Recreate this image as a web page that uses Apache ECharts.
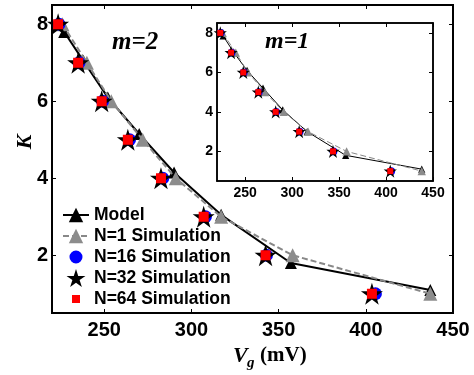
<!DOCTYPE html>
<html><head><meta charset="utf-8">
<script src="https://cdn.jsdelivr.net/npm/echarts@6/dist/echarts.min.js"></script>
<style>html,body{margin:0;padding:0;background:#fff}#c{width:474px;height:375px}</style>
</head><body><div id="c"></div>
<script>
// ---- data ----
const simK = [8, 7, 6, 5, 4, 3, 2, 1];
const n16V = [224, 235.5, 249, 264.5, 283.5, 308, 343, 405.5];
const n32V = [223.5, 235, 248.5, 263.5, 282.5, 307, 342.5, 403.5];
const n64V = [223.5, 235, 248.5, 263.5, 282.5, 307, 342.5, 403.5];
// m = 2 (main)
const m2ModelV = [227, 238, 252, 270, 290, 317, 357, 437];
const m2ModelK = [7.8, 7.05, 6.1, 5.15, 4.15, 3.05, 1.8, 1.1];
const m2N1V = [226, 240, 254, 272, 291, 317, 358, 437];
const m2N1K = [8, 7, 6, 5, 4, 3, 2, 1];
// m = 1 (inset)
const m1ModelV = [226.5, 238, 252, 269, 290, 316, 357, 438];
const m1ModelK = [7.85, 7.0, 6.1, 5.2, 4.1, 3.0, 1.8, 1.1];
const m1N1V = [226, 240, 253, 271, 291, 317, 358, 438];
const m1N1K = [8, 7, 6, 5, 4, 3, 2, 1];
const in16V = [224, 235.5, 248.5, 264.5, 283, 308, 344, 405.5];
const in32V = [223.5, 235, 248, 264, 282.5, 307.5, 343.5, 404.5];
const in64V = [223.5, 235, 248, 264, 282.5, 307.5, 343.5, 404.5];
const xTicks = [250, 300, 350, 400, 450];
const yTicks = [2, 4, 6, 8];
const legendNames = ['Model', 'N=1 Simulation', 'N=16 Simulation', 'N=32 Simulation', 'N=64 Simulation'];

const zip = (a, b) => a.map((v, i) => [v, b[i]]);
const STAR = 'path://M100,0 L122.45,69.1 L195.1,69.1 L136.3,111.8 L158.8,180.9 L100,138.2 L41.2,180.9 L63.7,111.8 L4.9,69.1 L77.55,69.1 Z';
const SANS = 'Liberation Sans';

function xAx(grid, pos, labels, fs, margin, z, lw) {
  return {
    type: 'value', gridIndex: grid, position: pos, min: 220, max: 450, z: z,
    axisLine: { show: true, onZero: false, lineStyle: { color: '#000', width: lw } },
    axisTick: { show: true, inside: true, length: 4, customValues: xTicks, lineStyle: { color: '#000', width: 1 } },
    axisLabel: { show: labels, customValues: xTicks, margin: margin, color: '#000', fontSize: fs, fontWeight: 'bold', fontFamily: SANS },
    splitLine: { show: false }
  };
}
function yAx(grid, pos, labels, fs, margin, z, lw) {
  return {
    type: 'value', gridIndex: grid, position: pos, min: 0.5, max: 8.5, z: z,
    axisLine: { show: true, onZero: false, lineStyle: { color: '#000', width: lw } },
    axisTick: { show: true, inside: true, length: 4, customValues: yTicks, lineStyle: { color: '#000', width: 1 } },
    axisLabel: { show: labels, customValues: yTicks, margin: margin, color: '#000', fontSize: fs, fontWeight: 'bold', fontFamily: SANS },
    splitLine: { show: false }
  };
}

function seriesSet(ax, modelV, modelK, n1V, n1K, v16, v32, v64, big, z0) {
  const s = big ? 1 : 0.6;
  return [
    { name: legendNames[0], type: 'line', xAxisIndex: ax, yAxisIndex: ax, data: zip(modelV, modelK),
      symbol: 'triangle', symbolSize: 12 * s, lineStyle: { color: '#000', width: big ? 2 : 1 },
      itemStyle: { color: '#000', opacity: 1 }, z: z0 },
    { name: legendNames[1], type: 'line', xAxisIndex: ax, yAxisIndex: ax, data: zip(n1V, n1K),
      symbol: 'triangle', symbolSize: 14 * s, lineStyle: { color: '#888', width: big ? 2 : 1, type: [6, 3] },
      itemStyle: { color: '#8c8c8c', opacity: 1 }, z: z0 + 1 },
    { name: legendNames[2], type: 'scatter', xAxisIndex: ax, yAxisIndex: ax, data: zip(v16, simK),
      symbol: 'circle', symbolSize: 13 * s, itemStyle: { color: '#0000ff', opacity: 1 }, z: z0 + 2 },
    { name: legendNames[3], type: 'scatter', xAxisIndex: ax, yAxisIndex: ax, data: zip(v32, simK),
      symbol: STAR, symbolSize: 22 * s, itemStyle: { color: '#000', opacity: 1 }, z: z0 + 3 },
    { name: legendNames[4], type: 'scatter', xAxisIndex: ax, yAxisIndex: ax, data: zip(v64, simK),
      symbol: 'rect', symbolSize: 10 * s, itemStyle: { color: '#ff0000', opacity: 1 }, z: z0 + 4 }
  ];
}

// empty helper series so the mirrored (top / right) axes get drawn
function mirror(ax) {
  return { type: 'line', xAxisIndex: ax, yAxisIndex: ax, data: [], silent: true };
}

const chart = echarts.init(document.getElementById('c'), null, { renderer: 'canvas' });
const option = {
  animation: false,
  backgroundColor: '#fff',
  grid: [
    { left: 52, top: 5, right: 21, bottom: 62, show: true, borderColor: '#000', borderWidth: 2, backgroundColor: 'transparent' },
    { left: 217, top: 23, width: 216, height: 158, show: true, backgroundColor: '#fff', borderColor: '#000', borderWidth: 1.5, z: 10 }
  ],
  xAxis: [xAx(0, 'bottom', true, 20, 7, 1, 2), xAx(0, 'top', false, 20, 7, 1, 2), xAx(1, 'bottom', true, 14, 5, 11, 1.5), xAx(1, 'top', false, 14, 5, 11, 1.5)],
  yAxis: [yAx(0, 'left', true, 20, 4, 1, 2), yAx(0, 'right', false, 20, 4, 1, 2), yAx(1, 'left', true, 14, 4, 11, 1.5), yAx(1, 'right', false, 14, 4, 11, 1.5)],
  legend: {
    left: 57, top: 201, orient: 'vertical', itemWidth: 26, itemHeight: 18, itemGap: 3,
    textStyle: { color: '#000', fontSize: 17.5, fontWeight: 'bold', fontFamily: SANS },
    data: [
      { name: legendNames[0] },
      { name: legendNames[1] },
      { name: legendNames[2], icon: 'path://M0,0 M18,18 M9,2.5 A6.5,6.5 0 1,1 8.99,2.5 Z' },
      { name: legendNames[3] },
      { name: legendNames[4], icon: 'path://M0,0 M18,18 M5,5 L13,5 L13,13 L5,13 Z' }
    ]
  },
  graphic: [
    { type: 'text', left: 112, top: 30, z: 20, style: { text: 'm=2', font: 'italic bold 25px "Liberation Serif"', fill: '#000' } },
    { type: 'text', left: 265, top: 30, z: 20, style: { text: 'm=1', font: 'italic bold 24px "Liberation Serif"', fill: '#000' } },
    { type: 'text', x: 25, y: 142, rotation: Math.PI / 2, z: 20, style: { text: 'K', font: 'italic bold 22px "Liberation Serif"', fill: '#000', align: 'center', verticalAlign: 'middle' } },
    { type: 'text', x: 233, y: 356, z: 20, style: { text: 'V', font: 'italic bold 22px "Liberation Serif"', fill: '#000', align: 'left', verticalAlign: 'middle' } },
    { type: 'text', x: 247, y: 363, z: 20, style: { text: 'g', font: 'italic bold 15px "Liberation Serif"', fill: '#000', align: 'left', verticalAlign: 'middle' } },
    { type: 'text', x: 260, y: 356, z: 20, style: { text: '(mV)', font: 'bold 21px "Liberation Serif"', fill: '#000', align: 'left', verticalAlign: 'middle' } }
  ],
  series: [].concat(
    seriesSet(0, m2ModelV, m2ModelK, m2N1V, m2N1K, n16V, n32V, n64V, true, 2),
    seriesSet(2, m1ModelV, m1ModelK, m1N1V, m1N1K, in16V, in32V, in64V, false, 12),
    [mirror(1), mirror(3)]
  )
};
chart.setOption(option);
</script>
</body></html>
